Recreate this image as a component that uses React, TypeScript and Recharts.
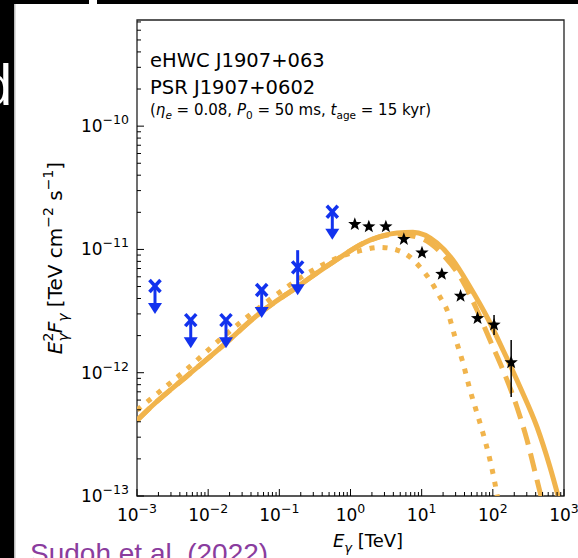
import { ComposedChart, Line, Scatter, XAxis, YAxis, ErrorBar, ReferenceArea } from 'recharts';

// eHWC J1907+063 gamma-ray SED with PWN model curves (Sudoh et al. 2022)
const W = 578;
const H = 558;
const X_MIN = 1e-3;
const X_MAX = 1e3;
const Y_MIN = 1e-13;
const Y_MAX = 7.26e-10;
const ORANGE = '#F1B44C';
const BLUE = '#1232EE';
const FONT = '"DejaVu Sans", sans-serif';

// model curves (E in TeV, E^2 F in TeV cm^-2 s^-1)
const SOLID_E = [0.001, 0.00168, 0.00505, 0.01467, 0.0535, 0.177, 0.567, 1.88, 4.5, 7.55, 16.4, 27.5, 47.8, 82.8, 139, 241, 417, 635, 933];
const SOLID_F = [4.1e-13, 5.47e-13, 9.4e-13, 1.58e-12, 3.05e-12, 4.95e-12, 7.9e-12, 1.19e-11, 1.36e-11, 1.38e-11, 1.13e-11, 8.2e-12, 4.95e-12, 2.83e-12, 1.53e-12, 7.66e-13, 3.63e-13, 1.72e-13, 7.7e-14];

const DASHED_E = [0.001, 0.00168, 0.00505, 0.01467, 0.0535, 0.177, 0.567, 1.88, 4.5, 9.46, 21.3, 36.9, 59.9, 91.2, 139, 218, 302, 417, 490];
const DASHED_F = [4.1e-13, 5.47e-13, 9.4e-13, 1.58e-12, 3.05e-12, 4.95e-12, 7.9e-12, 1.19e-11, 1.33e-11, 1.24e-11, 8.67e-12, 5.65e-12, 3.23e-12, 1.84e-12, 1.05e-12, 5.27e-13, 2.85e-13, 1.35e-13, 9.3e-14];

const DOTTED_E = [0.001, 0.00168, 0.00521, 0.01614, 0.0789, 0.253, 0.646, 1.3, 2.6, 4.5, 6.85, 9.47, 13.1, 18.1, 22.7, 29.4, 38.1, 47.8, 59.9, 72.7, 91.2, 107, 118];
const DOTTED_F = [4.98e-13, 6.35e-13, 1.09e-12, 1.95e-12, 4.04e-12, 6.44e-12, 8.51e-12, 9.7e-12, 1.04e-11, 9.89e-12, 8.67e-12, 7.19e-12, 5.65e-12, 4.11e-12, 3.23e-12, 1.95e-12, 1.2e-12, 7.25e-13, 4.71e-13, 3.24e-13, 1.96e-13, 1.27e-13, 9.3e-14];

// upper limits (blue)
const LIMIT_E = [0.00179, 0.00569, 0.0178, 0.0565, 0.181, 0.555];
const LIMIT_F = [5.05e-12, 2.67e-12, 2.67e-12, 4.69e-12, 7.16e-12, 2.02e-11];
const LIMIT_ERR_UP = [0, 0, 0, 0, 2.7e-12, 0];

// HAWC points (black stars)
const STAR_E = [1.15, 1.81, 3.14, 5.62, 10.1, 19.2, 35.2, 61, 104, 181];
const STAR_F = [1.6e-11, 1.53e-11, 1.53e-11, 1.21e-11, 9.4e-12, 6.3e-12, 4.19e-12, 2.76e-12, 2.44e-12, 1.21e-12];
const STAR_ERR_LO = [0, 0, 0, 0, 0, 0, 0, 0, 0.42e-12, 0.575e-12];
const STAR_ERR_HI = [0, 0, 0, 0, 0, 0, 0, 0, 0.5e-12, 0.63e-12];

// axis ticks: decades and the minor ticks between them
const X_DECADES = [-3, -2, -1, 0, 1, 2, 3];
const Y_DECADES = [-13, -12, -11, -10];
const MINOR = [1, 2, 3, 4, 5, 6, 7, 8, 9];

function logTicks(decades: number[], max: number) {
  const out: number[] = [];
  decades.forEach((p) => MINOR.forEach((m) => {
    const v = m * Math.pow(10, p);
    if (v <= max * 1.0001) out.push(v);
  }));
  return out;
}
const X_TICKS = logTicks(X_DECADES, X_MAX);
const Y_TICKS = logTicks(Y_DECADES, Y_MAX);

const toPts = (e: number[], f: number[]) => e.map((x, i) => ({ e: x, f: f[i] }));
const solid = toPts(SOLID_E, SOLID_F);
const dashed = toPts(DASHED_E, DASHED_F);
const dotted = toPts(DOTTED_E, DOTTED_F);
const limits = LIMIT_E.map((x, i) => ({ e: x, f: LIMIT_F[i], err: [0, LIMIT_ERR_UP[i]] }));
const stars = STAR_E.map((x, i) => ({ e: x, f: STAR_F[i], err: [STAR_ERR_LO[i], STAR_ERR_HI[i]] }));

function expOf(v: number) {
  const l = Math.log10(v);
  const r = Math.round(l);
  return { major: Math.abs(l - r) < 1e-6, exp: r };
}
const sup = (n: number) => (n < 0 ? '\u2212' + -n : String(n));

function XTick(props: any) {
  const { x, y, payload } = props;
  const { major, exp } = expOf(payload.value);
  return (
    <g>
      <line x1={x} x2={x} y1={y} y2={y - (major ? 7 : 4)} stroke="#000" strokeWidth={1} />
      {major && (
        <text x={x} y={y + 25} textAnchor="middle" fontFamily={FONT} fontSize={17} fill="#000">
          10<tspan dy={-8} fontSize={12.5}>{sup(exp)}</tspan>
        </text>
      )}
    </g>
  );
}

function YTick(props: any) {
  const { x, y, payload } = props;
  const { major, exp } = expOf(payload.value);
  return (
    <g>
      <line x1={x} x2={x + (major ? 7 : 4)} y1={y} y2={y} stroke="#000" strokeWidth={1} />
      {major && (
        <text x={x - 8} y={y + 6} textAnchor="end" fontFamily={FONT} fontSize={17} fill="#000">
          10<tspan dy={-8} fontSize={12.5}>{sup(exp)}</tspan>
        </text>
      )}
    </g>
  );
}

function LimitMarker(props: any) {
  const { cx, cy } = props;
  if (cx == null || cy == null) return null;
  return (
    <g stroke={BLUE} fill={BLUE}>
      <line x1={cx - 5.5} y1={cy - 6} x2={cx + 5.5} y2={cy + 6} strokeWidth={3.5} />
      <line x1={cx - 5.5} y1={cy + 6} x2={cx + 5.5} y2={cy - 6} strokeWidth={3.5} />
      <line x1={cx} y1={cy} x2={cx} y2={cy + 19} strokeWidth={3} />
      <polygon points={`${cx - 7},${cy + 17} ${cx + 7},${cy + 17} ${cx},${cy + 28}`} stroke="none" />
    </g>
  );
}

function StarMarker(props: any) {
  const { cx, cy } = props;
  if (cx == null || cy == null) return null;
  const pts: string[] = [];
  for (let i = 0; i < 10; i++) {
    const r = i % 2 === 0 ? 7 : 2.9;
    const a = -Math.PI / 2 + (i * Math.PI) / 5;
    pts.push(`${cx + r * Math.cos(a)},${cy + r * Math.sin(a)}`);
  }
  return <polygon points={pts.join(' ')} fill="#000" />;
}

export default function App() {
  return (
    <div style={{ position: 'absolute', left: 0, top: 0, width: W, height: H, background: '#fff', overflow: 'hidden' }}>
      <ComposedChart width={W} height={H} margin={{ top: 20, right: 14, bottom: 61, left: 136 }}>
        <XAxis
          dataKey="e"
          type="number"
          scale="log"
          domain={[X_MIN, X_MAX]}
          allowDataOverflow
          ticks={X_TICKS}
          interval={0}
          tick={<XTick />}
          tickSize={0}
          tickMargin={0}
          tickLine={false}
          axisLine={false}
          height={1}
        />
        <YAxis
          dataKey="f"
          type="number"
          scale="log"
          domain={[Y_MIN, Y_MAX]}
          allowDataOverflow
          ticks={Y_TICKS}
          interval={0}
          tick={<YTick />}
          tickSize={0}
          tickMargin={0}
          tickLine={false}
          axisLine={false}
          width={1}
        />
        <Line data={dotted} dataKey="f" type="monotone" stroke={ORANGE} strokeWidth={5} strokeDasharray="5 8" dot={false} isAnimationActive={false} />
        <Line data={dashed} dataKey="f" type="monotone" stroke={ORANGE} strokeWidth={5} strokeDasharray="18 9" dot={false} isAnimationActive={false} />
        <Line data={solid} dataKey="f" type="monotone" stroke={ORANGE} strokeWidth={5} dot={false} isAnimationActive={false} />
        <Scatter data={limits} dataKey="f" shape={<LimitMarker />} isAnimationActive={false}>
          <ErrorBar dataKey="err" direction="y" width={0} stroke={BLUE} strokeWidth={3} />
        </Scatter>
        <Scatter data={stars} dataKey="f" shape={<StarMarker />} isAnimationActive={false}>
          <ErrorBar dataKey="err" direction="y" width={0} stroke="#000" strokeWidth={1.5} />
        </Scatter>
        <ReferenceArea x1={X_MIN} x2={X_MAX} y1={Y_MIN} y2={Y_MAX} fill="none" stroke="#222" strokeWidth={1.3} ifOverflow="visible" />
      </ComposedChart>

      <svg width={W} height={H} style={{ position: 'absolute', left: 0, top: 0, pointerEvents: 'none' }}>
        <rect x={0} y={0} width={W} height={4} fill="#000" />
        <rect x={89} y={0} width={8} height={4} fill="#fff" />
        <rect x={0} y={0} width={14} height={H} fill="#000" />
        <rect x={14} y={4} width={1.5} height={H} fill="#bbb" />
        <text x={-20} y={105} fontFamily='"Liberation Sans", Arial, sans-serif' fontSize={58} fill="#fff">d</text>

        <g fontFamily={FONT} fill="#000">
          <text x={150} y={67} fontSize={19.5}>eHWC J1907+063</text>
          <text x={150} y={94} fontSize={19.5}>PSR J1907+0602</text>
          <text x={150} y={115} fontSize={15}>
            (<tspan fontStyle="italic">η</tspan>
            <tspan dy={4} fontSize={10.5} fontStyle="italic">e</tspan>
            <tspan dy={-4}> = 0.08, </tspan>
            <tspan fontStyle="italic">P</tspan>
            <tspan dy={4} fontSize={10.5}>0</tspan>
            <tspan dy={-4}> = 50 ms, </tspan>
            <tspan fontStyle="italic">t</tspan>
            <tspan dy={4} fontSize={10.5}>age</tspan>
            <tspan dy={-4}> = 15 kyr)</tspan>
          </text>

          <text x={368} y={547} fontSize={18} textAnchor="middle">
            <tspan fontStyle="italic">E</tspan>
            <tspan dy={5} fontSize={13} fontStyle="italic">γ</tspan>
            <tspan dy={-5}> [TeV]</tspan>
          </text>

          <text transform="rotate(-90)" x={-258} y={62} fontSize={20} textAnchor="middle">
            <tspan fontStyle="italic">E</tspan>
            <tspan dy={-9} fontSize={14}>2</tspan>
            <tspan dx={-9} dy={15} fontSize={14} fontStyle="italic">γ</tspan>
            <tspan dy={-6} fontStyle="italic">F</tspan>
            <tspan dy={6} fontSize={14} fontStyle="italic">γ</tspan>
            <tspan dy={-6}> [TeV cm</tspan>
            <tspan dy={-9} fontSize={14}>−2</tspan>
            <tspan dy={9}> s</tspan>
            <tspan dy={-9} fontSize={14}>−1</tspan>
            <tspan dy={9}>]</tspan>
          </text>
        </g>

        <text x={30} y={563} fontFamily='"Liberation Sans", Arial, sans-serif' fontSize={28} fill="#8a3c9e">Sudoh et al. (2022)</text>
      </svg>
    </div>
  );
}
